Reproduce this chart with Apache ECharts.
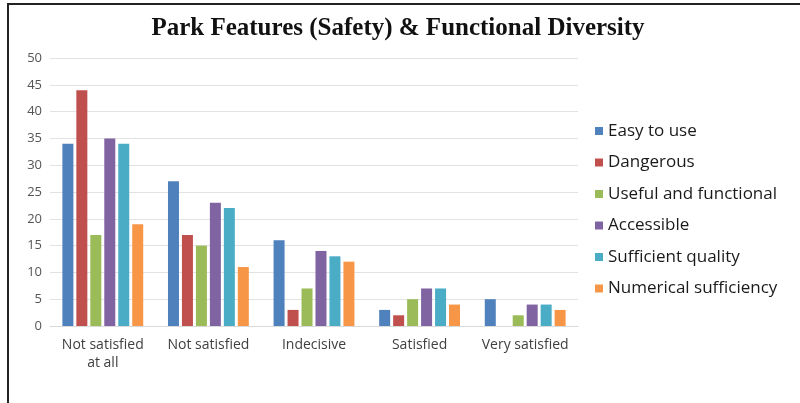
<!DOCTYPE html>
<html>
<head>
<meta charset="utf-8">
<script src="https://cdn.jsdelivr.net/npm/echarts@6/dist/echarts.min.js"></script>
<style>
  html, body { margin: 0; padding: 0; background: #fff; }
  #wrap { position: relative; width: 800px; height: 403px; }
  #chart { width: 800px; height: 403px; }
  #frame { position: absolute; left: 7px; top: 3px; width: 800px; height: 420px;
           border-left: 2px solid #222; border-top: 2px solid #222; pointer-events: none; }
</style>
</head>
<body>
<div id="wrap">
  <div id="chart"></div>
  <div id="frame"></div>
</div>
<script>
// Satisfaction levels on the x axis
const categories = ['Not satisfied\nat all', 'Not satisfied', 'Indecisive', 'Satisfied', 'Very satisfied'];

// One array per park feature
const easyToUse            = [34, 27, 16, 3, 5];
const dangerous            = [44, 17, 3, 2, 0];
const usefulAndFunctional  = [17, 15, 7, 5, 2];
const accessible           = [35, 23, 14, 7, 4];
const sufficientQuality    = [34, 22, 13, 7, 4];
const numericalSufficiency = [19, 11, 12, 4, 3];

const seriesNames = ['Easy to use', 'Dangerous', 'Useful and functional', 'Accessible', 'Sufficient quality', 'Numerical sufficiency'];
const seriesData = [easyToUse, dangerous, usefulAndFunctional, accessible, sufficientQuality, numericalSufficiency];
const colors = ['#4F81BD', '#C0504D', '#9BBB59', '#8064A2', '#4BACC6', '#F79646'];

// Y axis ticks
const yMin = 0, yMax = 50, yStep = 5;

const chart = echarts.init(document.getElementById('chart'), null, { renderer: 'canvas' });

chart.setOption({
  animation: false,
  color: colors,
  title: {
    text: 'Park Features (Safety) & Functional Diversity',
    left: 393,
    textAlign: 'center',
    top: 11,
    textStyle: { fontFamily: 'Liberation Serif', fontWeight: 'bold', fontSize: 25, color: '#111' }
  },
  legend: {
    orient: 'vertical',
    left: 590,
    top: 117,
    itemWidth: 8,
    itemHeight: 8,
    itemGap: 13.5,
    icon: 'rect',
    textStyle: { fontFamily: 'Open Sans', fontSize: 17, color: '#1a1a1a', lineHeight: 18 },
    data: seriesNames
  },
  grid: { left: 50, right: 222, top: 58, bottom: 77 },
  xAxis: {
    type: 'category',
    data: categories,
    axisTick: { show: false },
    axisLine: { lineStyle: { color: '#d9d9d9' } },
    axisLabel: { color: '#404040', fontFamily: 'Open Sans', fontSize: 14, margin: 10, interval: 0, lineHeight: 18 }
  },
  yAxis: {
    type: 'value',
    min: yMin, max: yMax, interval: yStep,
    axisLine: { show: false },
    axisTick: { show: false },
    axisLabel: { color: '#555', fontFamily: 'Open Sans', fontSize: 13, margin: 8 },
    splitLine: { lineStyle: { color: '#e2e2e2' } }
  },
  series: seriesNames.map((name, i) => ({
    name: name,
    type: 'bar',
    data: seriesData[i],
    barWidth: 11,
    barGap: '27%'
  }))
});
</script>
</body>
</html>
